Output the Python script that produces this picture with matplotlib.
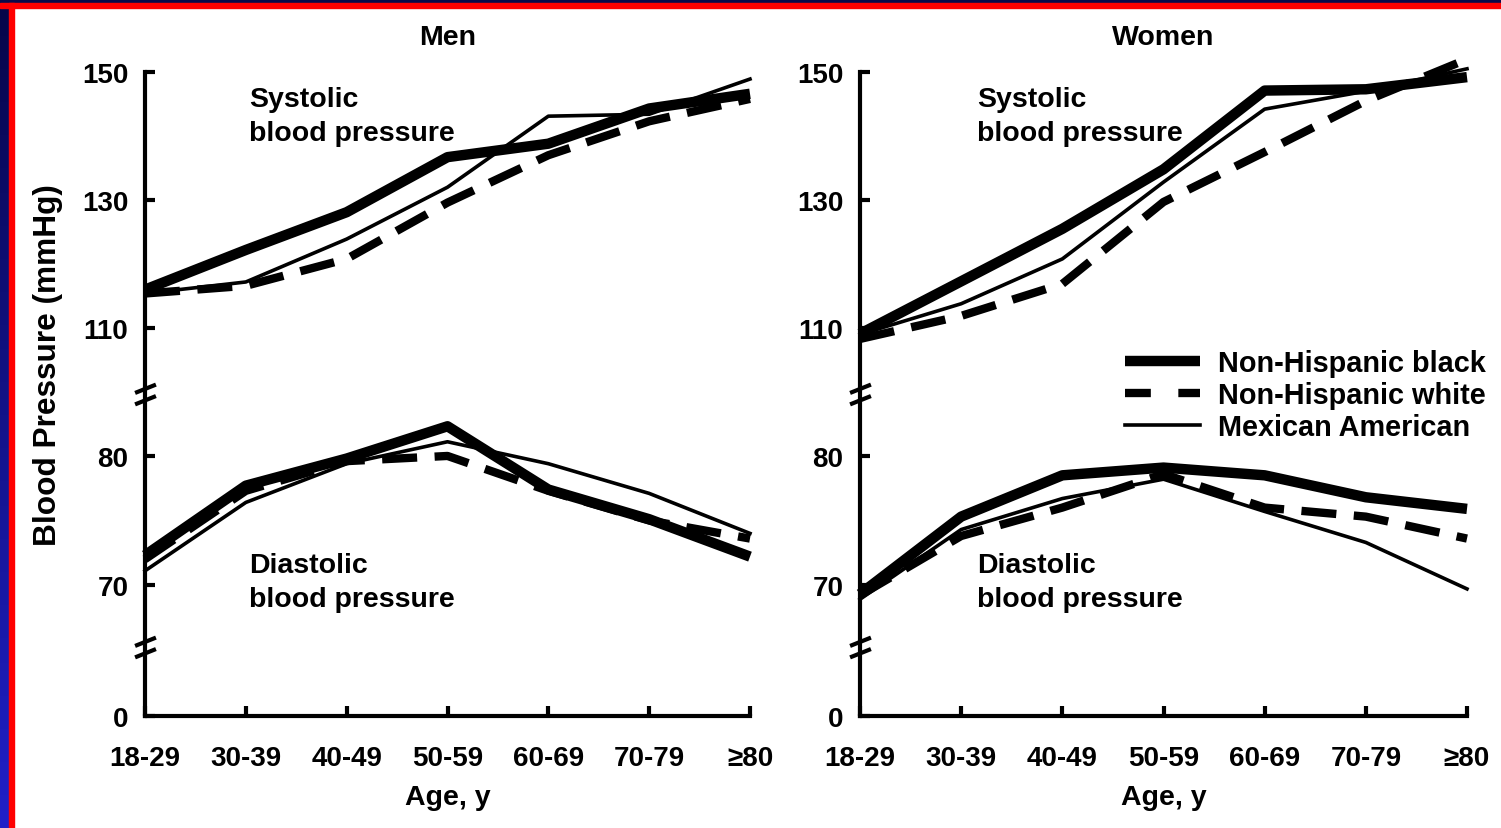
import numpy as np
import matplotlib
matplotlib.use("Agg")
import matplotlib.pyplot as plt
from matplotlib.path import Path
from matplotlib.patches import Rectangle
from matplotlib.lines import Line2D

plt.rcParams['font.family'] = ['Liberation Sans', 'DejaVu Sans']
plt.rcParams['font.weight'] = 'bold'

age_groups = ["18-29", "30-39", "40-49", "50-59", "60-69", "70-79", "\u226580"]
groups = ["Non-Hispanic black", "Non-Hispanic white", "Mexican American"]

# mean systolic / diastolic pressure (mmHg) by age group
men_sys_black = [116.0, 122.2, 128.1, 136.7, 138.8, 144.3, 146.6]
men_sys_white = [115.4, 116.6, 120.8, 129.6, 137.0, 142.3, 145.8]
men_sys_mexam = [115.4, 117.2, 123.9, 132.0, 143.1, 143.4, 148.9]
men_dia_black = [72.3, 77.7, 79.8, 82.3, 77.4, 75.1, 72.2]
men_dia_white = [72.0, 77.3, 79.6, 80.0, 77.3, 75.0, 73.6]
men_dia_mexam = [71.1, 76.4, 79.4, 81.1, 79.4, 77.1, 74.0]

women_sys_black = [109.1, 117.3, 125.5, 134.8, 147.1, 147.3, 149.2]
women_sys_white = [108.3, 111.9, 116.9, 129.7, 137.5, 145.5, 152.0]
women_sys_mexam = [109.0, 113.8, 120.8, 132.8, 144.2, 147.0, 150.5]
women_dia_black = [69.3, 75.3, 78.5, 79.1, 78.5, 76.8, 75.9]
women_dia_white = [69.2, 73.8, 76.0, 78.6, 76.0, 75.3, 73.6]
women_dia_mexam = [68.9, 74.3, 76.7, 78.2, 75.7, 73.3, 69.7]

y_ticks = [0, 70, 80, 110, 130, 150]

# broken y axis: 0 squeezed, diastolic band, gap, systolic band
brk_low, brk_mid, brk_high = 65.2, 84.8, 99.7
V = [-10, 0, brk_low, brk_mid, brk_high, 150, 160]
H = [-10.6, 0, 69, 322, 322.001, 644, 708]


def fwd(v):
    return np.interp(v, V, H)


def inv(h):
    return np.interp(h, H, V)


styles = [
    dict(color='black', lw=7.5, solid_capstyle='butt', solid_joinstyle='round'),
    dict(color='black', lw=6, linestyle=(0, (4.2, 2.1)), dash_capstyle='butt'),
    dict(color='black', lw=2.6, solid_joinstyle='round'),
]
legend_styles = [
    dict(color='black', lw=7.5, solid_capstyle='butt'),
    dict(color='black', lw=6, linestyle=(0, (3.1, 3.3)), dash_capstyle='butt'),
    dict(color='black', lw=2.6),
]

brk_marker = Path([(-1, 0.15), (1, 0.95), (-1, -0.95), (1, -0.15)],
                  [Path.MOVETO, Path.LINETO, Path.MOVETO, Path.LINETO])

W, Hpx = 1501, 829
fig = plt.figure(figsize=(W / 100, Hpx / 100), dpi=100)

# slide border
fig.patches.append(Rectangle((0, 1 - 4 / Hpx), 1, 4 / Hpx, transform=fig.transFigure,
                             color='#0a0a4a', zorder=0))
fig.patches.append(Rectangle((0, 1 - 9 / Hpx), 1, 5 / Hpx, transform=fig.transFigure,
                             color='#ff0000', zorder=0))
edge = fig.add_axes([0, 0, 9 / W, 1 - 4 / Hpx])
edge.imshow(np.linspace(0, 1, 100).reshape(-1, 1), aspect='auto',
            cmap=matplotlib.colors.LinearSegmentedColormap.from_list('e', ['#06064a', '#2020c8']))
edge.axis('off')
fig.patches.append(Rectangle((9 / W, 0), 5 / W, 1 - 4 / Hpx, transform=fig.transFigure,
                             color='#ff0000', zorder=0))

bottom = (Hpx - 717) / Hpx
height = (717 - 73) / Hpx
panels = [
    ("Men", 145, 750, [men_sys_black, men_sys_white, men_sys_mexam],
     [men_dia_black, men_dia_white, men_dia_mexam], 1.03),
    ("Women", 860, 1467, [women_sys_black, women_sys_white, women_sys_mexam],
     [women_dia_black, women_dia_white, women_dia_mexam], 1.155),
]

x = np.arange(len(age_groups))
fs = 20
fs_text = 20.5

for title, x0, x1, sys_sets, dia_sets, tx in panels:
    ax = fig.add_axes([x0 / W, bottom, (x1 - x0) / W, height])
    ax.set_yscale('function', functions=(fwd, inv))
    ax.set_xlim(0, 6)
    ax.set_ylim(0, 150)

    for k in range(3):
        ax.plot(x, sys_sets[k], clip_on=False, **styles[k])
        ax.plot(x, dia_sets[k], clip_on=False, **styles[k])

    for s in ['top', 'right']:
        ax.spines[s].set_visible(False)
    for s in ['left', 'bottom']:
        ax.spines[s].set_linewidth(3)
        ax.spines[s].set_capstyle('projecting')
    ax.spines['left'].set_bounds(0, 150)
    ax.spines['bottom'].set_bounds(0, 6)

    ax.set_xticks(x)
    ax.set_xticklabels(age_groups)
    ax.set_yticks(y_ticks)
    ax.set_yticklabels([str(t) for t in y_ticks])
    ax.yaxis.set_minor_locator(matplotlib.ticker.NullLocator())
    ax.tick_params(axis='both', direction='in', length=7, width=3, labelsize=fs)
    ax.tick_params(axis='y', pad=12)
    ax.tick_params(axis='x', pad=21)

    for b in [brk_high - 0.5, brk_low]:
        ax.plot([0], [b], marker=brk_marker, markersize=15, mew=3,
                color='black', clip_on=False, linestyle='none')

    ax.set_title(title, fontsize=fs_text, fontweight='bold', pad=20)
    ax.set_xlabel("Age, y", fontsize=fs_text, fontweight='bold', labelpad=9)

    ax.text(tx, 143.15, "Systolic\nblood pressure", fontsize=fs_text, va='center',
            ha='left', linespacing=1.4)
    ax.text(tx, 70.2, "Diastolic\nblood pressure", fontsize=fs_text, va='center',
            ha='left', linespacing=1.4)

    if title == "Women":
        handles = [Line2D([], [], **st) for st in legend_styles]
        ax.legend(handles, groups, loc='center left',
                  bbox_to_anchor=(1125 / W, 1 - 396 / Hpx),
                  bbox_transform=fig.transFigure, frameon=False, fontsize=20.8,
                  handlelength=2.6, handletextpad=0.62, labelspacing=0.15,
                  borderpad=0, borderaxespad=0)

fig.text(48 / W, 1 - 365 / Hpx, "Blood Pressure (mmHg)", rotation=90,
         ha='center', va='center', fontsize=22.8, fontweight='bold')

fig.savefig("out.png", dpi=100, facecolor='white')
